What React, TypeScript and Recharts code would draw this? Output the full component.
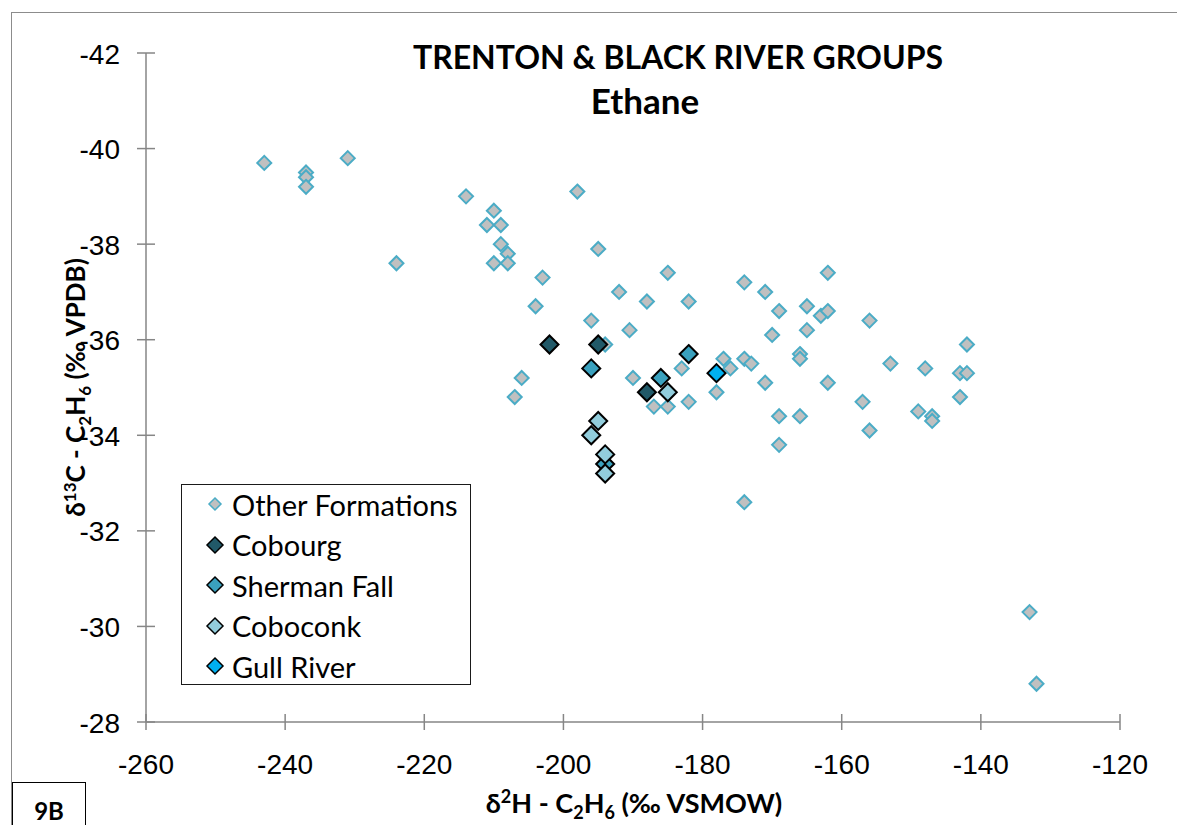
import React from 'react';
import { ScatterChart, Scatter, XAxis, YAxis } from 'recharts';

// [δ2H, δ13C] pairs per formation
const otherFormations = [
  [-243, -39.7], [-237, -39.5], [-237, -39.4], [-237, -39.2], [-231, -39.8],
  [-224, -37.6], [-214, -39.0], [-210, -38.7], [-211, -38.4], [-209, -38.4],
  [-209, -38.0], [-208, -37.8], [-210, -37.6], [-208, -37.6], [-203, -37.3],
  [-198, -39.1], [-204, -36.7], [-195, -37.9], [-185, -37.4], [-192, -37.0],
  [-188, -36.8], [-182, -36.8], [-174, -37.2], [-196, -36.4], [-190.5, -36.2],
  [-194, -35.9], [-177, -35.6], [-174, -35.6], [-206, -35.2], [-207, -34.8],
  [-190, -35.2], [-187, -34.6], [-185, -34.6], [-182, -34.7], [-183, -35.4],
  [-178, -34.9], [-176, -35.4], [-173, -35.5], [-171, -35.1], [-170, -36.1],
  [-169, -36.6], [-169, -34.4], [-169, -33.8], [-174, -32.6], [-162, -37.4],
  [-171, -37.0], [-165, -36.7], [-163, -36.5], [-162, -36.6], [-156, -36.4],
  [-165, -36.2], [-142, -35.9], [-166, -35.7], [-166, -35.6], [-153, -35.5],
  [-148, -35.4], [-143, -35.3], [-142, -35.3], [-162, -35.1], [-143, -34.8],
  [-157, -34.7], [-166, -34.4], [-149, -34.5], [-147, -34.4], [-147, -34.3],
  [-156, -34.1], [-133, -30.3], [-132, -28.8],
];
const cobourg = [[-202, -35.9], [-195, -35.9], [-188, -34.9]];
const shermanFall = [[-196, -35.4], [-186, -35.2], [-182, -35.7], [-194, -33.4]];
const coboconk = [[-185, -34.9], [-195, -34.3], [-196, -34.0], [-194, -33.6], [-194, -33.2]];
const gullRiver = [[-178, -35.3]];

const xTicks = [-260, -240, -220, -200, -180, -160, -140, -120];
const yTicks = [-42, -40, -38, -36, -34, -32, -30, -28];

const toPoints = (rows: number[][]) => rows.map(([x, y]) => ({ x, y }));

const PLOT_LEFT = 146;
const PLOT_TOP = 53;
const PLOT_RIGHT = 1120;
const PLOT_BOTTOM = 722;
const AXIS_GRAY = '#868686';
const SANS = '"Liberation Sans", Arial, sans-serif';
const TITLE_FONT = 'Lato, "Open Sans", sans-serif';

const series = [
  { name: 'Other Formations', rows: otherFormations, fill: '#C0C0C0', stroke: '#4BACC6', r: 7, sw: 2 },
  { name: 'Cobourg', rows: cobourg, fill: '#215968', stroke: '#000000', r: 9, sw: 2 },
  { name: 'Sherman Fall', rows: shermanFall, fill: '#3AA1BE', stroke: '#000000', r: 9, sw: 2 },
  { name: 'Coboconk', rows: coboconk, fill: '#92CDDC', stroke: '#000000', r: 9, sw: 2 },
  { name: 'Gull River', rows: gullRiver, fill: '#00B0F0', stroke: '#000000', r: 9, sw: 2 },
];

const diamond = (fill: string, stroke: string, r: number, sw: number) => (props: any) => {
  const { cx, cy } = props;
  return (
    <polygon
      points={`${cx},${cy - r} ${cx + r},${cy} ${cx},${cy + r} ${cx - r},${cy}`}
      fill={fill}
      stroke={stroke}
      strokeWidth={sw}
    />
  );
};

const XTick = (props: any) => {
  const { x, payload } = props;
  return (
    <g>
      <line x1={x} x2={x} y1={PLOT_BOTTOM - 8} y2={PLOT_BOTTOM + 8} stroke={AXIS_GRAY} strokeWidth={1.5} />
      <text x={x} y={764} textAnchor="middle" dominantBaseline="central" fontFamily={SANS} fontSize={28} fill="#000">
        {payload.value}
      </text>
    </g>
  );
};

const YTick = (props: any) => {
  const { y, payload } = props;
  return (
    <g>
      <line x1={PLOT_LEFT - 9} x2={PLOT_LEFT + 9} y1={y} y2={y} stroke={AXIS_GRAY} strokeWidth={1.5} />
      <text x={120} y={y + 1} textAnchor="end" dominantBaseline="central" fontFamily={SANS} fontSize={28} fill="#000">
        {payload.value}
      </text>
    </g>
  );
};

const LegendBox = () => (
  <div
    style={{
      position: 'absolute',
      left: 181,
      top: 484,
      width: 290,
      height: 201,
      border: '1.5px solid #1a1a1a',
      boxSizing: 'border-box',
      background: '#fff',
    }}
  >
    {series.map((s, i) => {
      const r = i === 0 ? 6 : 8;
      return (
        <div
          key={s.name}
          style={{ position: 'absolute', left: 21, top: -1 + i * 40.5, height: 40, display: 'flex', alignItems: 'center' }}
        >
          <svg width={24} height={24} style={{ marginRight: 5 }}>
            <polygon
              points={`12,${12 - r} ${12 + r},12 12,${12 + r} ${12 - r},12`}
              fill={s.fill}
              stroke={s.stroke}
              strokeWidth={1.5}
            />
          </svg>
          <span style={{ fontFamily: TITLE_FONT, fontSize: 29, color: '#000', whiteSpace: 'nowrap' }}>{s.name}</span>
        </div>
      );
    })}
  </div>
);

const App = () => {
  return (
    <div style={{ position: 'relative', width: 1185, height: 833, margin: -8, overflow: 'hidden', background: '#fff' }}>
      <div
        style={{
          position: 'absolute',
          left: 11,
          top: 12,
          width: 1200,
          height: 850,
          border: '1.5px solid #8c8c8c',
        }}
      />
      <div style={{ position: 'absolute', left: 0, top: 0 }}>
        <ScatterChart
          width={1185}
          height={833}
          margin={{ top: PLOT_TOP, right: 1185 - PLOT_RIGHT, bottom: 833 - PLOT_BOTTOM - 40, left: PLOT_LEFT - 60 }}
        >
          <XAxis
            type="number"
            dataKey="x"
            domain={[-260, -120]}
            ticks={xTicks}
            height={40}
            tick={<XTick />}
            tickLine={false}
            axisLine={{ stroke: AXIS_GRAY, strokeWidth: 1.5 }}
            allowDataOverflow
          />
          <YAxis
            type="number"
            dataKey="y"
            domain={[-42, -28]}
            ticks={yTicks}
            reversed
            width={60}
            tick={<YTick />}
            tickLine={false}
            axisLine={{ stroke: AXIS_GRAY, strokeWidth: 1.5 }}
            allowDataOverflow
          />
          {series.map((s) => (
            <Scatter
              key={s.name}
              name={s.name}
              data={toPoints(s.rows)}
              shape={diamond(s.fill, s.stroke, s.r, s.sw)}
              isAnimationActive={false}
            />
          ))}
        </ScatterChart>
      </div>

      <div
        style={{
          position: 'absolute',
          left: 378,
          width: 600,
          top: 35,
          textAlign: 'center',
          fontFamily: TITLE_FONT,
          fontWeight: 700,
          fontSize: 32,
          lineHeight: '44px',
          color: '#000',
        }}
      >
        TRENTON &amp; BLACK RIVER GROUPS
      </div>
      <div
        style={{
          position: 'absolute',
          left: 345,
          width: 600,
          top: 78,
          textAlign: 'center',
          fontFamily: TITLE_FONT,
          fontWeight: 700,
          fontSize: 35,
          lineHeight: '44px',
          color: '#000',
        }}
      >
        Ethane
      </div>

      <div
        style={{
          position: 'absolute',
          left: 334,
          width: 600,
          top: 785,
          textAlign: 'center',
          fontFamily: TITLE_FONT,
          fontWeight: 700,
          fontSize: 27,
          color: '#000',
        }}
      >
        δ<sup style={{ fontSize: 18 }}>2</sup>H - C<sub style={{ fontSize: 18 }}>2</sub>H<sub style={{ fontSize: 18 }}>6</sub> (‰ VSMOW)
      </div>

      <div
        style={{
          position: 'absolute',
          left: 77 - 200,
          width: 400,
          top: 387 - 18,
          textAlign: 'center',
          transform: 'rotate(-90deg)',
          fontFamily: TITLE_FONT,
          fontWeight: 700,
          fontSize: 26,
          color: '#000',
        }}
      >
        δ<sup style={{ fontSize: 17 }}>13</sup>C - C<sub style={{ fontSize: 17 }}>2</sub>H<sub style={{ fontSize: 17 }}>6</sub> (‰ VPDB)
      </div>

      <LegendBox />

      <div
        style={{
          position: 'absolute',
          left: 12,
          top: 782,
          width: 74,
          height: 70,
          border: '1.5px solid #000',
          boxSizing: 'border-box',
          background: '#fff',
        }}
      >
        <div
          style={{
            position: 'absolute',
            left: 0,
            right: 0,
            top: 13,
            textAlign: 'center',
            fontFamily: TITLE_FONT,
            fontWeight: 700,
            fontSize: 24,
          }}
        >
          9B
        </div>
      </div>
    </div>
  );
};

export default App;
